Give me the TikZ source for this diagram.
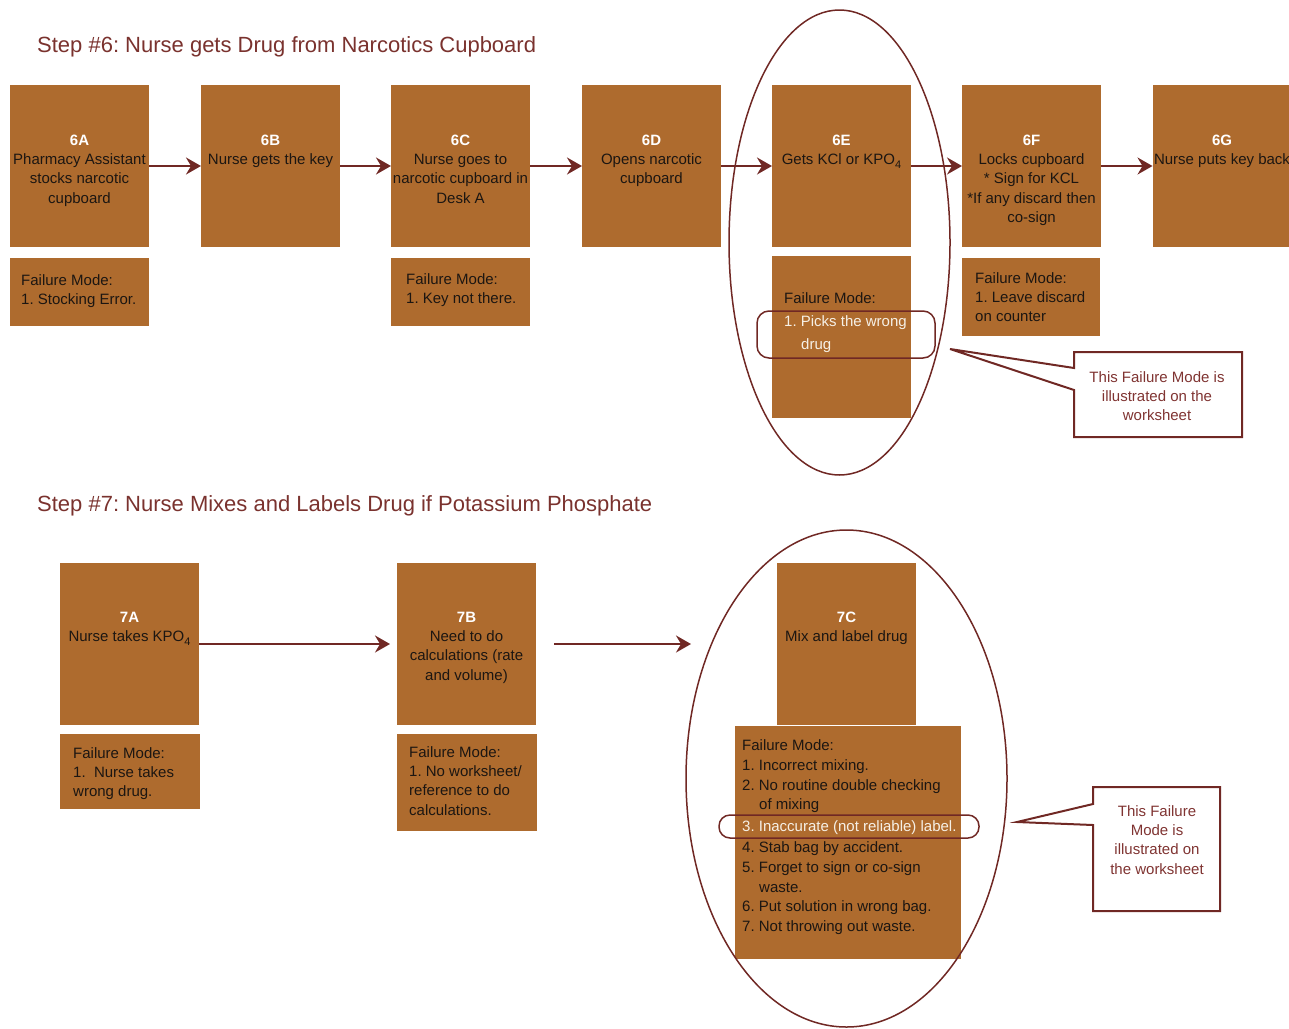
\documentclass[tikz,border=0pt]{standalone}
\usepackage{fontspec}
\setmainfont{Liberation Sans}
\usetikzlibrary{arrows.meta,shapes.geometric}
\definecolor{boxfill}{RGB}{174,107,46}
\definecolor{maroonline}{RGB}{112,40,36}
\definecolor{titlec}{RGB}{122,50,46}
\definecolor{txt}{RGB}{28,22,18}
\definecolor{calloutc}{RGB}{128,52,50}
\definecolor{lighttxt}{RGB}{246,240,230}
\newcommand\steplabel[1]{\textcolor{white}{\textbf{#1}}}
\newcommand\subfour{\raisebox{-3.5pt}{\fontsize{11}{11}\selectfont 4}}
\frenchspacing
\begin{document}
\begin{tikzpicture}[x=1pt,y=-1pt,
 stepbox/.style={fill=boxfill, draw=none, inner sep=0pt, outer sep=0pt, minimum width=139pt, minimum height=162pt},
 fmbox/.style={fill=boxfill, draw=none, inner sep=0pt, outer sep=0pt},
 steptext/.style={anchor=north, inner sep=0pt, align=center, text=txt, font=\fontsize{15}{19.3}\selectfont},
 fmtext/.style={anchor=north west, inner sep=0pt, align=left, text=txt, font=\fontsize{15}{19.3}\selectfont},
 calltext/.style={anchor=north, inner sep=0pt, align=center, text=calloutc, font=\fontsize{15}{19.3}\selectfont},
 titletext/.style={anchor=base west, inner sep=0pt, text=titlec, font=\fontsize{22}{26}\selectfont},
 flow/.style={draw=maroonline, line width=2pt, -{Stealth[length=15pt,width=17pt,inset=5pt]}},
 ring/.style={draw=maroonline, line width=1.5pt, fill=none, inner sep=0pt},
 callout/.style={draw=maroonline, line width=2pt, fill=white, line join=miter}
]
\useasboundingbox (0,0) rectangle (1289,1028);

% ---------- Step 6 ----------
\node[titletext] (title6) at (37,52) {Step \#6: Nurse gets Drug from Narcotics Cupboard};

\node[stepbox] (b6a) at (79.5,166) {};
\node[stepbox] (b6b) at (270.5,166) {};
\node[stepbox] (b6c) at (460.5,166) {};
\node[stepbox] (b6d) at (651.5,166) {};
\node[stepbox] (b6e) at (841.5,166) {};
\node[stepbox] (b6f) at (1031.5,166) {};
\node[stepbox] (b6g) at (1222,166) {};

\node[steptext] (t6a) at ([yshift=-46.5pt]b6a.north) {\strut\steplabel{6A}\\Pharmacy Assistant\\stocks narcotic\\cupboard};
\node[steptext] (t6b) at ([yshift=-46.5pt]b6b.north) {\strut\steplabel{6B}\\Nurse gets the key};
\node[steptext] (t6c) at ([yshift=-46.5pt]b6c.north) {\strut\steplabel{6C}\\Nurse goes to\\narcotic cupboard in\\Desk A};
\node[steptext] (t6d) at ([yshift=-46.5pt]b6d.north) {\strut\steplabel{6D}\\Opens narcotic\\cupboard};
\node[steptext] (t6e) at ([yshift=-46.5pt]b6e.north) {\strut\steplabel{6E}\\Gets KCl or KPO\subfour};
\node[steptext] (t6f) at ([yshift=-46.5pt]b6f.north) {\strut\steplabel{6F}\\Locks cupboard\\* Sign for KCL\\*If any discard then\\co-sign};
\node[steptext] (t6g) at ([yshift=-46.5pt]b6g.north) {\strut\steplabel{6G}\\Nurse puts key back};

\draw[flow] (b6a.east) -- (b6b.west);
\draw[flow] (b6b.east) -- (b6c.west);
\draw[flow] (b6c.east) -- (b6d.west);
\draw[flow] (b6d.east) -- (b6e.west);
\draw[flow] (b6e.east) -- (b6f.west);
\draw[flow] (b6f.east) -- (b6g.west);

\node[fmbox, minimum width=139pt, minimum height=68pt] (f6a) at (79.5,292) {};
\node[fmbox, minimum width=139pt, minimum height=68pt] (f6c) at (460.5,292) {};
\node[fmbox, minimum width=139pt, minimum height=162pt] (f6e) at (841.5,337) {};
\node[fmbox, minimum width=138pt, minimum height=78pt] (f6f) at (1031,297) {};

\node[fmtext] (f6at) at (21,271.5) {\strut Failure Mode:\\1. Stocking Error.};
\node[fmtext] (f6ct) at (406,270.5) {\strut Failure Mode:\\1. Key not there.};
\node[fmtext, font=\fontsize{15}{23}\selectfont] (f6et) at (784,287) {\strut Failure Mode:\\\textcolor{lighttxt}{1. Picks the wrong}\\\hspace*{17pt}\textcolor{lighttxt}{drug}};
\node[fmtext] (f6ft) at (975,269.5) {\strut Failure Mode:\\1. Leave discard\\on counter};

\node[ring, ellipse, minimum width=221pt, minimum height=465pt] (ell6) at (839.5,242.5) {};
\node[ring, rectangle, rounded corners=12pt, minimum width=178pt, minimum height=47pt] (hl6) at (846,334.5) {};

\coordinate (tip6) at (950,349);
\draw[callout] (1074,352) -- (1242,352) -- (1242,437) -- (1074,437) -- (1074,390) -- (tip6) -- (1074,368) -- cycle;
\node[calltext] (c6t) at (1157,368.5) {\strut This Failure Mode is\\illustrated on the\\worksheet};

% ---------- Step 7 ----------
\node[titletext] (title7) at (37,511) {Step \#7: Nurse Mixes and Labels Drug if Potassium Phosphate};

\node[stepbox] (b7a) at (129.5,644) {};
\node[stepbox] (b7b) at (466.5,644) {};
\node[stepbox] (b7c) at (846.5,644) {};

\node[steptext] (t7a) at ([yshift=-45.5pt]b7a.north) {\strut\steplabel{7A}\\Nurse takes KPO\subfour};
\node[steptext] (t7b) at ([yshift=-45.5pt]b7b.north) {\strut\steplabel{7B}\\Need to do\\calculations (rate\\and volume)};
\node[steptext] (t7c) at ([yshift=-45.5pt]b7c.north) {\strut\steplabel{7C}\\Mix and label drug};

\node[fmbox, minimum width=140pt, minimum height=75pt] (f7a) at (130,771.5) {};
\node[fmbox, minimum width=140pt, minimum height=97pt] (f7b) at (467,782.5) {};
\node[fmbox, minimum width=226pt, minimum height=233pt] (f7c) at (848,842.5) {};

\node[fmtext] (f7at) at (73,744.5) {\strut Failure Mode:\\1.\ \ Nurse takes\\wrong drug.};
\node[fmtext] (f7bt) at (409,743.5) {\strut Failure Mode:\\1. No worksheet/\\reference to do\\calculations.};
\node[fmtext, font=\fontsize{15}{19.8}\selectfont] (f7ct) at (742,736.5) {\strut Failure Mode:\\1. Incorrect mixing.\\2. No routine double checking\\\hspace*{17pt}of mixing\\[1.5pt]\textcolor{lighttxt}{3. Inaccurate (not reliable) label.}\\[1.5pt]4. Stab bag by accident.\\5. Forget to sign or co-sign\\\hspace*{17pt}waste.\\6. Put solution in wrong bag.\\7. Not throwing out waste.};

\draw[flow, shorten >=7pt] (b7a.east) -- (b7b.west);
\draw[flow, shorten <=18pt, shorten >=86pt] (b7b.east) -- (b7c.west);

\node[ring, ellipse, minimum width=321pt, minimum height=497pt] (ell7) at (846.5,778.5) {};
\node[ring, rectangle, rounded corners=11pt, minimum width=260pt, minimum height=23pt] (hl7) at (849,826.5) {};

\coordinate (tip7) at (1017,822);
\draw[callout] (1093,787) -- (1220,787) -- (1220,911) -- (1093,911) -- (1093,825) -- (tip7) -- (1093,804) -- cycle;
\node[calltext] (c7t) at (1157,802.5) {\strut This Failure\\Mode is\\illustrated on\\the worksheet};
\end{tikzpicture}
\end{document}
